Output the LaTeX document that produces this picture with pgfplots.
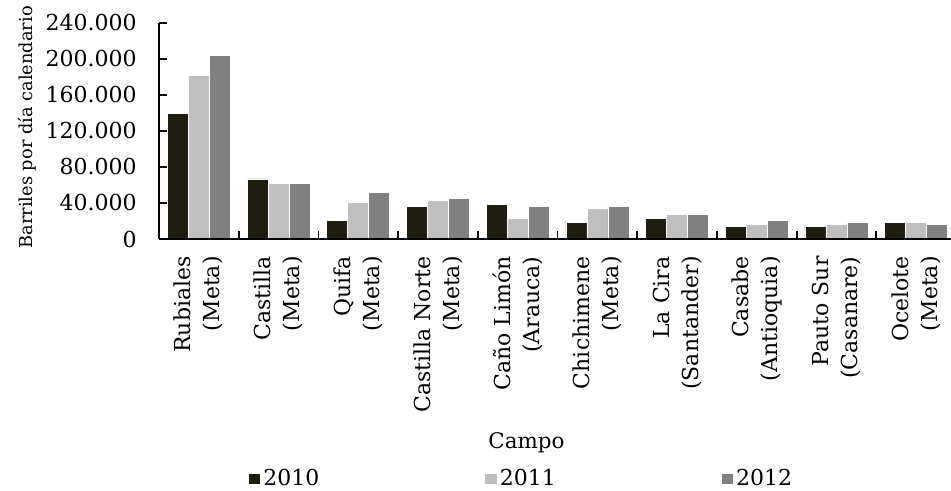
\documentclass[border=0pt]{standalone}
\usepackage{fontspec}
\setmainfont{DejaVu Serif}
\usepackage{pgfplots}
\pgfplotsset{compat=1.18}
\definecolor{c10}{HTML}{1F1C12}
\definecolor{c11}{HTML}{BFBFBF}
\definecolor{c12}{HTML}{808080}
\pgfplotsset{leg/.style={legend image code/.code={\fill[##1] (0pt,-2.85pt) rectangle (6.2pt,2.85pt);}}}
\begin{document}
\begin{tikzpicture}
\begin{axis}[
  name=ax,
  scale only axis,
  axis on top,
  width=398.5pt, height=108.15pt,
  xmin=-0.5, xmax=9.5, ymin=0, ymax=240000,
  axis x line*=bottom, axis y line*=left,
  axis line style={line width=0.9pt, -},
  ybar=0pt, bar width=10.5pt,
  xtick={0.5,1.5,2.5,3.5,4.5,5.5,6.5,7.5,8.5},
  xticklabels={},
  extra x ticks={0,1,2,3,4,5,6,7,8,9},
  extra x tick labels={{Rubiales\\(Meta)},{Castilla\\(Meta)},{Quifa\\(Meta)},{Castilla Norte\\(Meta)},{Caño Limón\\(Arauca)},{Chichimene\\(Meta)},{La Cira\\(Santander)},{Casabe\\(Antioquia)},{Pauto Sur\\(Casanare)},{Ocelote\\(Meta)}},
  extra x tick style={major tick length=0pt, tick style={draw=none},
    xticklabel style={rotate=90, anchor=east, align=right, inner xsep=8.5pt, font=\fontsize{11}{14.5}\selectfont}},
  tick align=inside,
  tick style={line width=0.9pt, black},
  ytick={0,40000,80000,120000,160000,200000,240000},
  yticklabels={0,40.000,80.000,120.000,160.000,200.000,240.000},
  major tick length=3.8pt,
  scaled y ticks=false,
  yticklabel style={inner xsep=0pt, xshift=-11pt, font=\fontsize{11}{13}\selectfont},
  ylabel={Barriles por día calendario},
  ylabel style={at={(axis description cs:-0.1648,0.516)}, anchor=center, font=\fontsize{8.9}{10}\selectfont},
  xlabel={Campo},
  xlabel style={at={(axis description cs:0.461,-0.9677)}, anchor=base, font=\fontsize{10.7}{12}\selectfont},
  legend columns=3,
  legend style={at={(axis description cs:0.1117,-1.108)}, anchor=west, draw=none, inner sep=0pt, outer sep=0pt,
    font=\fontsize{11}{13}\selectfont, nodes={inner sep=0pt},
    /tikz/every odd column/.append style={column sep=1.2pt},
    /tikz/every even column/.append style={column sep=82.5pt}},
]
\addplot[fill=c10, draw=white, line width=0.3pt, leg] coordinates {(0,139500) (1,66600) (2,20700) (3,35900) (4,38500) (5,18500) (6,22500) (7,14100) (8,14100) (9,18500)};
\addplot[fill=c11, draw=white, line width=0.3pt, leg] coordinates {(0,181600) (1,62100) (2,40300) (3,42500) (4,22500) (5,33700) (6,27400) (7,16300) (8,16300) (9,18500)};
\addplot[fill=c12, draw=white, line width=0.3pt, leg] coordinates {(0,203800) (1,62100) (2,51400) (3,44700) (4,35900) (5,35900) (6,27400) (7,20700) (8,18500) (9,16300)};
\legend{2010,2011,2012}
\coordinate (O) at (rel axis cs:0,0);
\end{axis}
\pgfresetboundingbox
\path[use as bounding box] ([xshift=-79.5pt,yshift=-126pt]O) rectangle ([xshift=396pt,yshift=119.5pt]O);
\end{tikzpicture}
\end{document}
